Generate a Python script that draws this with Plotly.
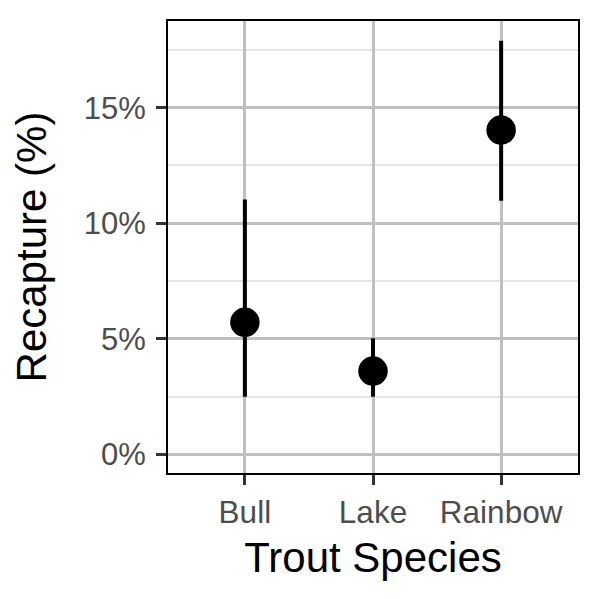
import plotly.graph_objects as go

species = ["Bull", "Lake", "Rainbow"]
recapture = [5.71, 3.60, 14.03]
lower = [2.49, 2.49, 10.97]
upper = [11.03, 5.02, 17.90]
y_ticks = [0, 5, 10, 15]
y_tick_labels = ["0%", "5%", "10%", "15%"]

err_plus = [u - m for u, m in zip(upper, recapture)]
err_minus = [m - l for m, l in zip(recapture, lower)]

fig = go.Figure(
    go.Scatter(
        x=species,
        y=recapture,
        mode="markers",
        marker=dict(size=29.5, color="black"),
        error_y=dict(type="data", symmetric=False, array=err_plus,
                     arrayminus=err_minus, width=0, thickness=4, color="black"),
        showlegend=False,
    )
)

font = "Liberation Sans, Arial, sans-serif"
fig.update_layout(
    width=599, height=599,
    margin=dict(l=160, r=29, t=13, b=134),
    paper_bgcolor="white", plot_bgcolor="white",
    font=dict(family=font),
    xaxis=dict(
        range=[-0.6, 2.6], showgrid=True, gridcolor="#C0C0C0", gridwidth=3,
        ticks="outside", ticklen=10, tickwidth=2.5, tickcolor="#333333",
        tickfont=dict(size=31.5, color="#4D4D4D"),
        showline=True, mirror=True, linecolor="black", linewidth=2,
        title=dict(text="Trout Species", font=dict(size=42, color="black"), standoff=14),
        zeroline=False, automargin=False,
    ),
    yaxis=dict(
        range=[-0.81, 18.75], tickmode="array", tickvals=y_ticks, ticktext=y_tick_labels,
        showgrid=True, gridcolor="#C0C0C0", gridwidth=3,
        minor=dict(tickvals=[2.5, 7.5, 12.5, 17.5], showgrid=True, gridcolor="#E5E5E5", gridwidth=1.5),
        ticks="outside", ticklen=10, tickwidth=2.5, tickcolor="#333333",
        tickfont=dict(size=31, color="#4D4D4D"), ticklabelstandoff=4,
        showline=True, mirror=True, linecolor="black", linewidth=2,
        title=dict(text="Recapture (%)", font=dict(size=42, color="black"), standoff=24),
        zeroline=False, automargin=False,
    ),
)

fig.write_html("out.html")
